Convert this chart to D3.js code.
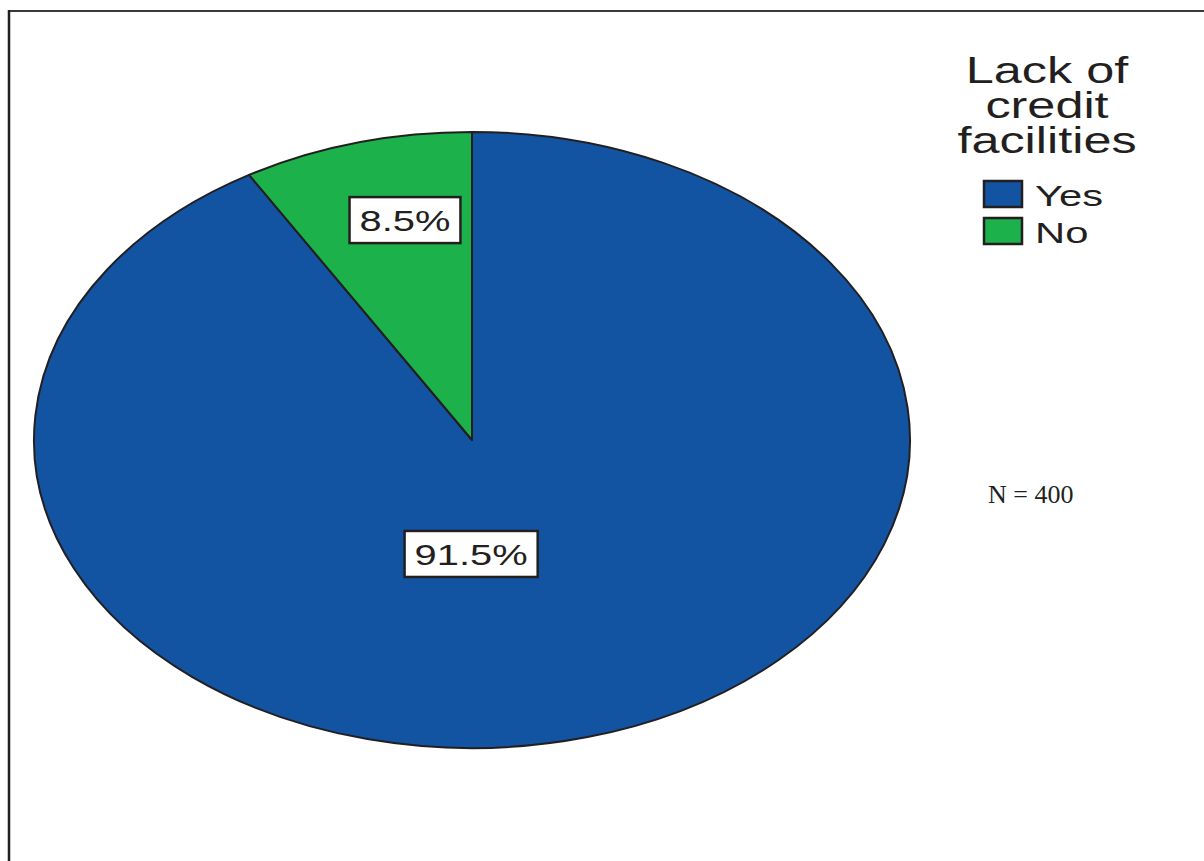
<!DOCTYPE html>
<html>
<head>
<meta charset="utf-8">
<script src="https://cdn.jsdelivr.net/npm/d3@7"></script>
<style>
  html, body { margin: 0; padding: 0; background: #fff; }
  svg { display: block; }
</style>
</head>
<body>
<svg id="chart" width="1204" height="861"></svg>
<script>
// Survey responses: "Lack of credit facilities"
const categories = ["Yes", "No"];
const percentages = [91.5, 8.5];
const sampleSize = 400;
const legendTitle = ["Lack of", "credit", "facilities"];

const colors = d3.scaleOrdinal()
  .domain(categories)
  .range(["#1254a2", "#1db14b"]);

const svg = d3.select("#chart");
const ink = "#231f20";

// Outer frame (left and top rules)
svg.append("line").attr("x1", 9).attr("y1", 11).attr("x2", 1204).attr("y2", 11)
  .attr("stroke", "#3a3a3a").attr("stroke-width", 2);
svg.append("line").attr("x1", 9).attr("y1", 10).attr("x2", 9).attr("y2", 861)
  .attr("stroke", ink).attr("stroke-width", 2.5);

// Elliptical pie: circular layout stretched horizontally
const cx = 472, cy = 440, rx = 438, ry = 308;
const data = categories.map((c, i) => ({ category: c, value: percentages[i] }));
const pie = d3.pie().sort(null).value(d => d.value);
const arc = d3.arc().innerRadius(0).outerRadius(ry);
const arcs = pie(data);

const pieG = svg.append("g")
  .attr("transform", `translate(${cx},${cy}) scale(${rx / ry},1)`);
pieG.selectAll("path")
  .data(arcs)
  .join("path")
  .attr("d", arc)
  .attr("fill", d => colors(d.data.category))
  .attr("stroke", ink)
  .attr("stroke-width", 2)
  .attr("stroke-linejoin", "round")
  .attr("vector-effect", "non-scaling-stroke");

// Boxed percentage labels (offsets in unit-ellipse coordinates)
const labelAnchor = { "Yes": [-0.002, 0.37], "No": [-0.153, -0.714] };
const stretch = 1.33;
const fmt = v => d3.format(".1f")(v) + "%";

arcs.forEach(d => {
  const [ux, uy] = labelAnchor[d.data.category];
  const g = svg.append("g")
    .attr("transform", `translate(${cx + ux * rx},${cy + uy * ry})`);
  const t = g.append("text")
    .attr("text-anchor", "middle")
    .attr("dy", "0.36em")
    .attr("transform", `scale(${stretch},1)`)
    .attr("font-family", "'Liberation Sans', Arial, sans-serif")
    .attr("font-size", 30)
    .attr("fill", ink)
    .text(fmt(d.data.value));
  const bb = t.node().getBBox();
  const w = bb.width * stretch + 20, h = 46;
  g.insert("rect", "text")
    .attr("x", -w / 2).attr("y", -h / 2)
    .attr("width", w).attr("height", h)
    .attr("fill", "#fff")
    .attr("stroke", ink)
    .attr("stroke-width", 2.5);
});

// Legend title, tightly stacked lines
const legend = svg.append("g").attr("transform", "translate(1047,0)");
legend.selectAll("text.title")
  .data(legendTitle)
  .join("text")
  .attr("class", "title")
  .attr("text-anchor", "middle")
  .attr("transform", (d, i) => `translate(0,${83 + i * 35}) scale(1.40,1)`)
  .attr("font-family", "'Liberation Sans', Arial, sans-serif")
  .attr("font-size", 36)
  .attr("fill", ink)
  .text(d => d);

const items = svg.append("g").attr("transform", "translate(984,181)");
const item = items.selectAll("g")
  .data(categories)
  .join("g")
  .attr("transform", (d, i) => `translate(0,${i * 37})`);
item.append("rect")
  .attr("width", 38).attr("height", 26)
  .attr("fill", d => colors(d))
  .attr("stroke", ink)
  .attr("stroke-width", 2.5);
item.append("text")
  .attr("transform", "translate(51,25) scale(1.44,1)")
  .attr("font-family", "'Liberation Sans', Arial, sans-serif")
  .attr("font-size", 29)
  .attr("fill", ink)
  .text(d => d);

// Sample size note
svg.append("text")
  .attr("x", 988).attr("y", 503)
  .attr("font-family", "'Liberation Serif', 'Times New Roman', serif")
  .attr("font-size", 26)
  .attr("fill", ink)
  .text(`N = ${sampleSize}`);
</script>
</body>
</html>
